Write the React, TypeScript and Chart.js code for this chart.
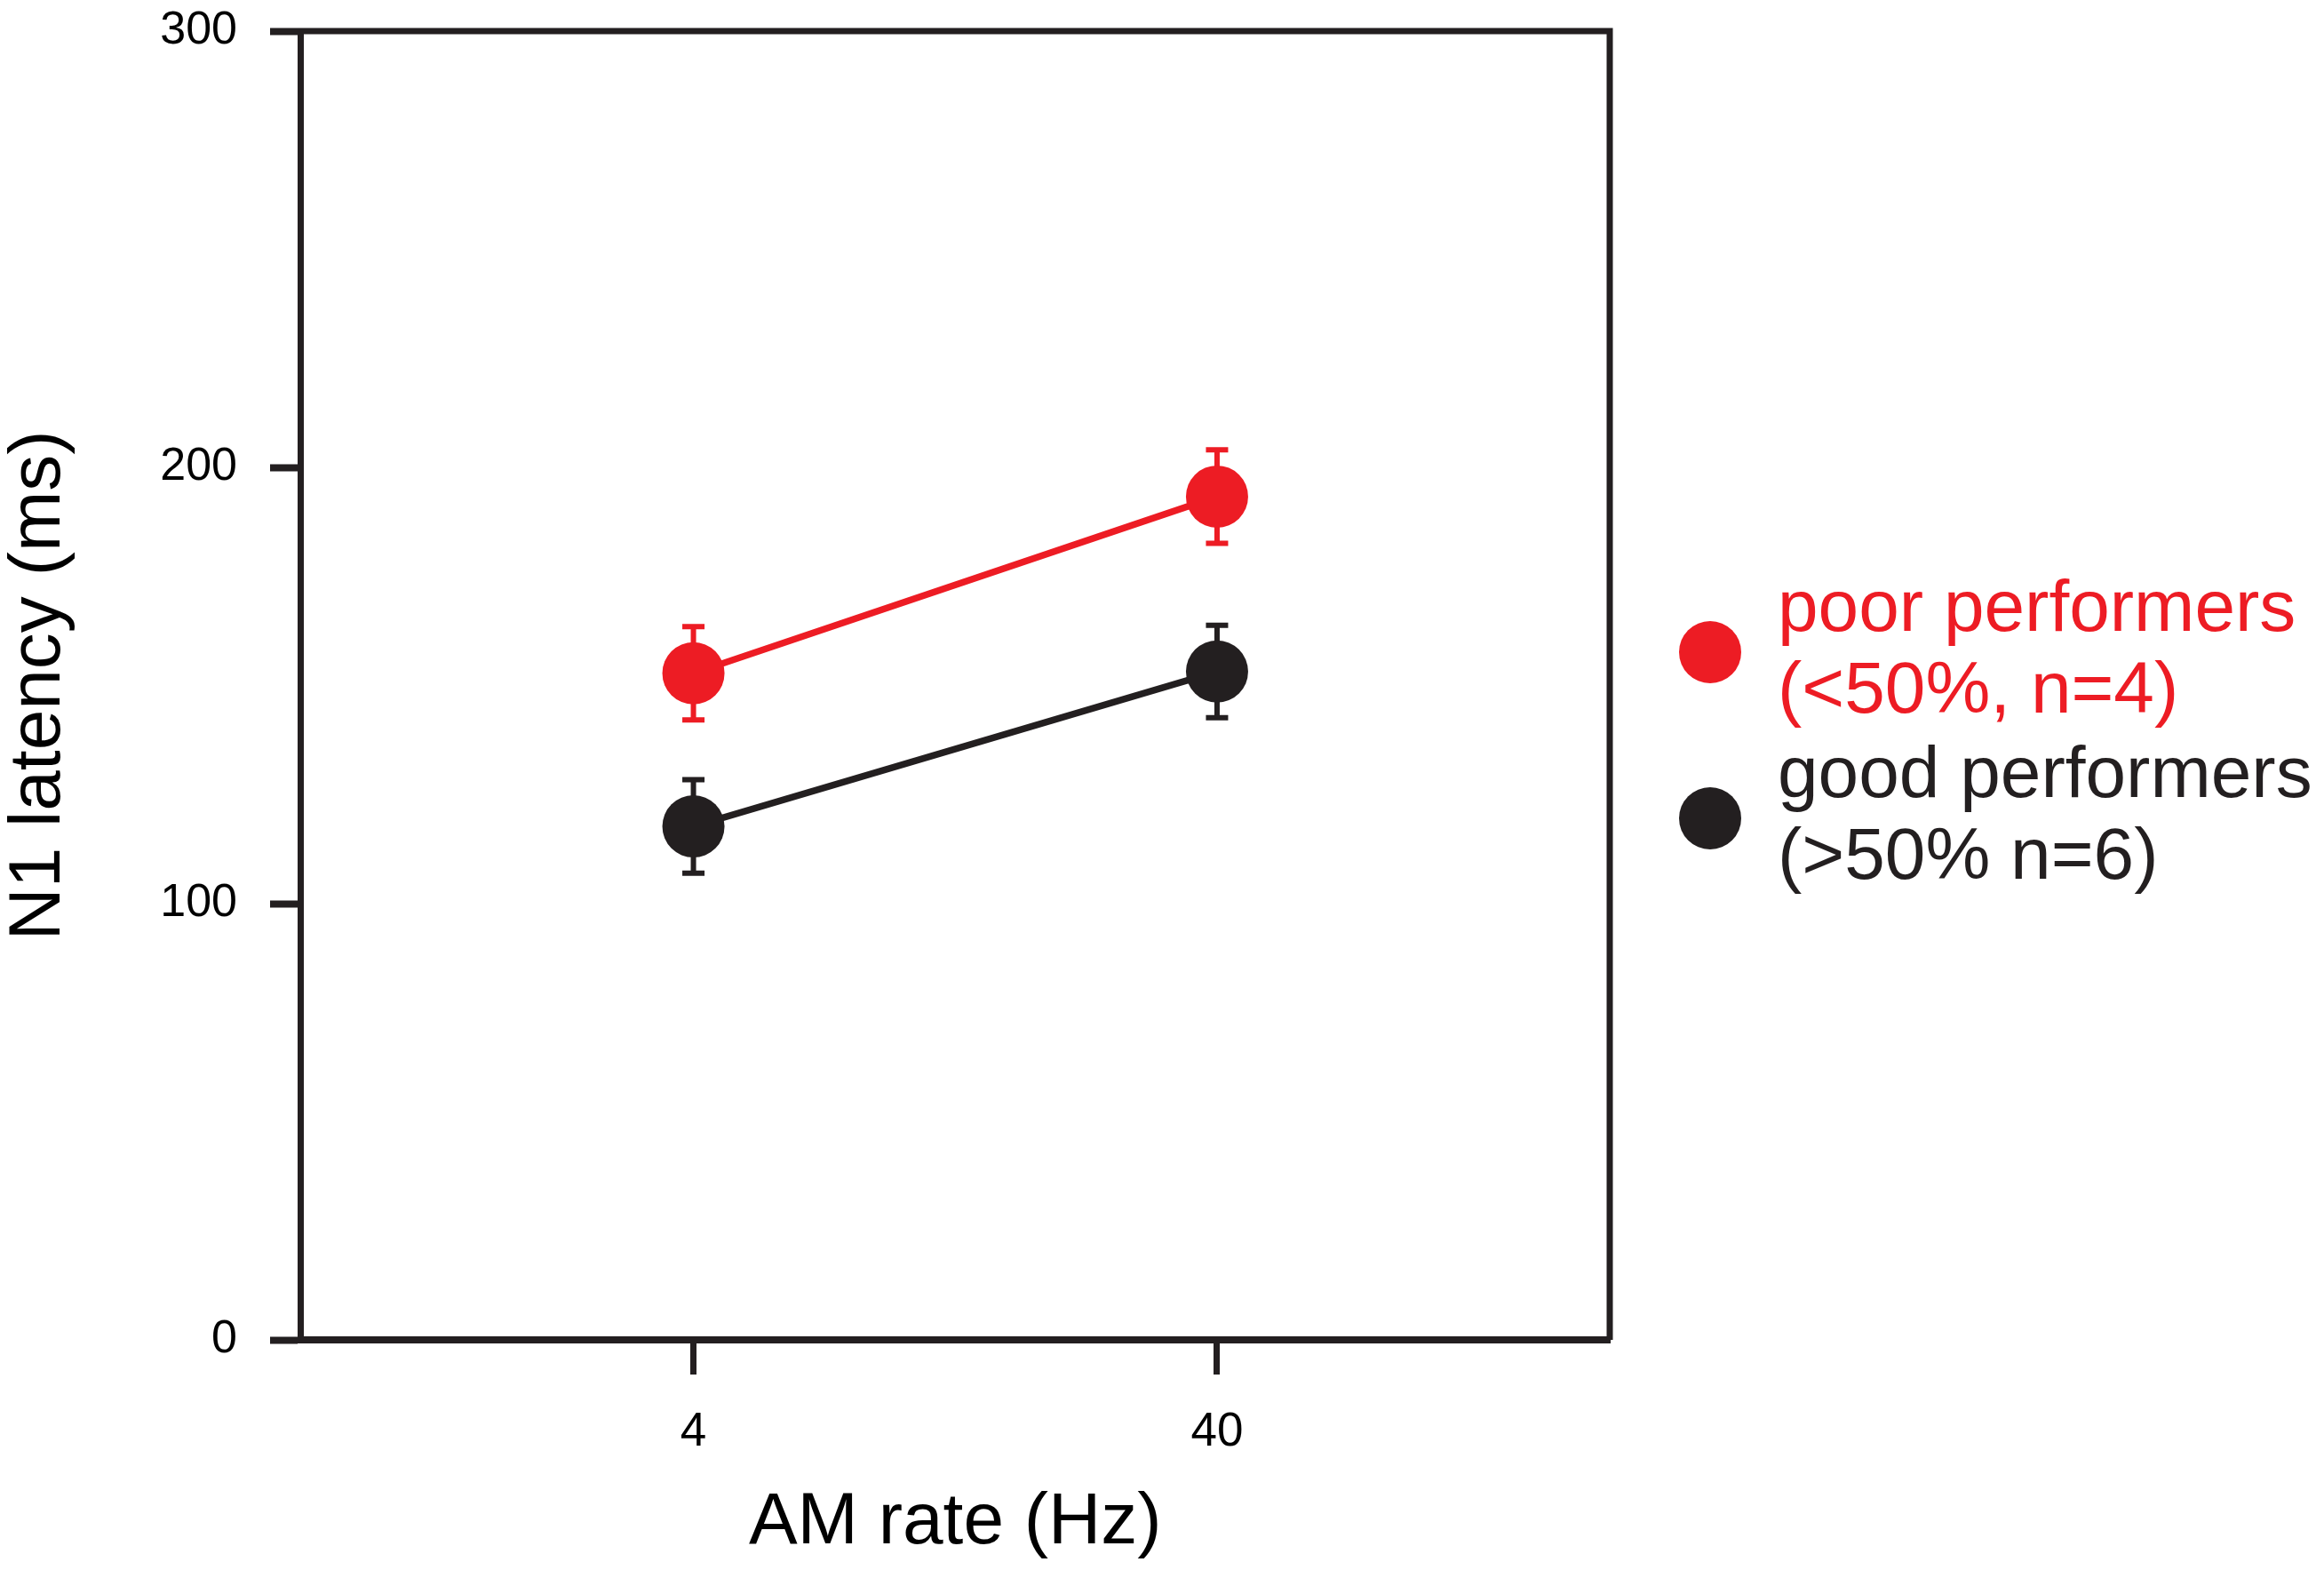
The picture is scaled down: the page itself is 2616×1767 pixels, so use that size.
import { useEffect, useRef } from "react"
import { Chart, registerables, type ChartConfiguration, type Plugin } from "chart.js"

Chart.register(...registerables)

const amRates = ["4", "40"]
const ratePositions = [1, 2]

const poorLatency = [152.8, 193.3]
const poorError = [10.7, 10.7]
const goodLatency = [117.7, 153.2]
const goodError = [10.7, 10.6]

const legendLines = [
  ["poor performers", "(<50%, n=4)"],
  ["good performers", "(>50% n=6)"],
]

const yTicks = [0, 100, 200, 300]

const RED = "#ED1C24"
const INK = "#231F20"
const FONT = "'Liberation Sans', Arial, Helvetica, sans-serif"

const errors = [poorError, goodError]

// error bars under the markers
const errorBars: Plugin = {
  id: "errorBars",
  beforeDatasetsDraw(chart) {
    const { ctx } = chart
    const y = chart.scales.y
    chart.data.datasets.forEach((ds, di) => {
      const meta = chart.getDatasetMeta(di)
      const color = ds.borderColor as string
      ctx.save()
      ctx.strokeStyle = color
      ctx.lineWidth = 6
      ;(ds.data as { x: number; y: number }[]).forEach((d, i) => {
        const px = meta.data[i].x
        const top = y.getPixelForValue(d.y + errors[di][i])
        const bot = y.getPixelForValue(d.y - errors[di][i])
        ctx.beginPath()
        ctx.moveTo(px, top)
        ctx.lineTo(px, bot)
        ctx.moveTo(px - 12.5, top)
        ctx.lineTo(px + 12.5, top)
        ctx.moveTo(px - 12.5, bot)
        ctx.lineTo(px + 12.5, bot)
        ctx.stroke()
      })
      ctx.restore()
    })
  },
}

// box around the plot area
const frame: Plugin = {
  id: "frame",
  afterDraw(chart) {
    const { ctx, chartArea } = chart
    ctx.save()
    ctx.strokeStyle = INK
    ctx.lineWidth = 7
    ctx.beginPath()
    ctx.moveTo(chartArea.left, chartArea.bottom)
    ctx.lineTo(chartArea.left, chartArea.top)
    ctx.lineTo(chartArea.right, chartArea.top)
    ctx.lineTo(chartArea.right, chartArea.bottom)
    ctx.stroke()
    ctx.restore()
  },
}

// two-line legend on the right
const sideLegend: Plugin = {
  id: "sideLegend",
  afterDraw(chart) {
    const { ctx, chartArea } = chart
    const cx = chartArea.right + 113
    const tx = chartArea.right + 189
    const baselines = [710, 897]
    ctx.save()
    ctx.font = `82px ${FONT}`
    ctx.textBaseline = "alphabetic"
    ctx.textAlign = "left"
    chart.data.datasets.forEach((ds, i) => {
      const color = ds.borderColor as string
      const b = baselines[i]
      ctx.fillStyle = color
      ctx.beginPath()
      ctx.arc(cx, b + 24, 35, 0, Math.PI * 2)
      ctx.fill()
      legendLines[i].forEach((line, j) => {
        ctx.fillText(line, tx, b + j * 92)
      })
    })
    ctx.restore()
  },
}

export default function App() {
  const chartRef = useRef<HTMLCanvasElement | null>(null)
  const chartInstanceRef = useRef<Chart | null>(null)

  useEffect(() => {
    if (!chartRef.current) return
    const ctx = chartRef.current.getContext("2d")
    if (!ctx) return

    if (chartInstanceRef.current) {
      chartInstanceRef.current.destroy()
    }

    const config = {
      type: "line",
      data: {
        datasets: [
          {
            label: legendLines[0].join(" "),
            data: ratePositions.map((x, i) => ({ x, y: poorLatency[i] })),
            borderColor: RED,
            backgroundColor: RED,
            borderWidth: 7.5,
            pointRadius: 35,
            pointBorderWidth: 0,
            pointBackgroundColor: RED,
          },
          {
            label: legendLines[1].join(" "),
            data: ratePositions.map((x, i) => ({ x, y: goodLatency[i] })),
            borderColor: INK,
            backgroundColor: INK,
            borderWidth: 7.5,
            pointRadius: 35,
            pointBorderWidth: 0,
            pointBackgroundColor: INK,
          },
        ],
      },
      options: {
        responsive: false,
        animation: false,
        devicePixelRatio: 1,
        layout: { padding: { top: 27.5, right: 804, left: 0, bottom: 0 } },
        plugins: {
          legend: { display: false },
          tooltip: { enabled: false },
        },
        scales: {
          x: {
            type: "linear",
            min: 0.25,
            max: 2.75,
            afterBuildTicks: (scale) => {
              scale.ticks = ratePositions.map((v) => ({ value: v }))
            },
            afterFit: (scale) => {
              scale.height = 259
              scale.paddingLeft = 0
              scale.paddingRight = 0
            },
            ticks: {
              autoSkip: false,
              maxRotation: 0,
              padding: 34,
              color: "#000",
              font: { family: FONT, size: 53 },
              callback: (v) => amRates[ratePositions.indexOf(Number(v))] ?? "",
            },
            grid: {
              drawOnChartArea: false,
              tickLength: 39,
              tickWidth: 7,
              tickColor: INK,
            },
            border: { display: true, color: INK, width: 8 },
            title: {
              display: true,
              text: "AM rate (Hz)",
              color: "#000",
              font: { family: FONT, size: 82, lineHeight: 1.2 },
              padding: { top: 0, bottom: 3 },
            },
          },
          y: {
            min: 0,
            max: 300,
            afterBuildTicks: (scale) => {
              scale.ticks = yTicks.map((v) => ({ value: v }))
            },
            afterFit: (scale) => {
              // fixed axis width, and no label padding pushing the plot down
              scale.width = 338.5
              scale.paddingTop = 0
              scale.paddingBottom = 0
            },
            ticks: {
              padding: 37,
              color: "#000",
              font: { family: FONT, size: 52 },
            },
            grid: {
              drawOnChartArea: false,
              tickLength: 34.5,
              tickWidth: 8,
              tickColor: INK,
            },
            border: { display: true, color: INK, width: 7 },
            title: {
              display: true,
              text: "N1 latency (ms)",
              color: "#000",
              font: { family: FONT, size: 82, lineHeight: 1 },
              padding: { top: 3, bottom: 0 },
            },
          },
        },
      },
      plugins: [errorBars, frame, sideLegend],
    } as ChartConfiguration

    chartInstanceRef.current = new Chart(ctx, config)

    return () => {
      if (chartInstanceRef.current) {
        chartInstanceRef.current.destroy()
        chartInstanceRef.current = null
      }
    }
  }, [])

  return (
    <div style={{ position: "absolute", left: 0, top: 0, width: 2616, height: 1767, background: "#fff" }}>
      <canvas ref={chartRef} width={2616} height={1767} style={{ display: "block" }}></canvas>
    </div>
  )
}
